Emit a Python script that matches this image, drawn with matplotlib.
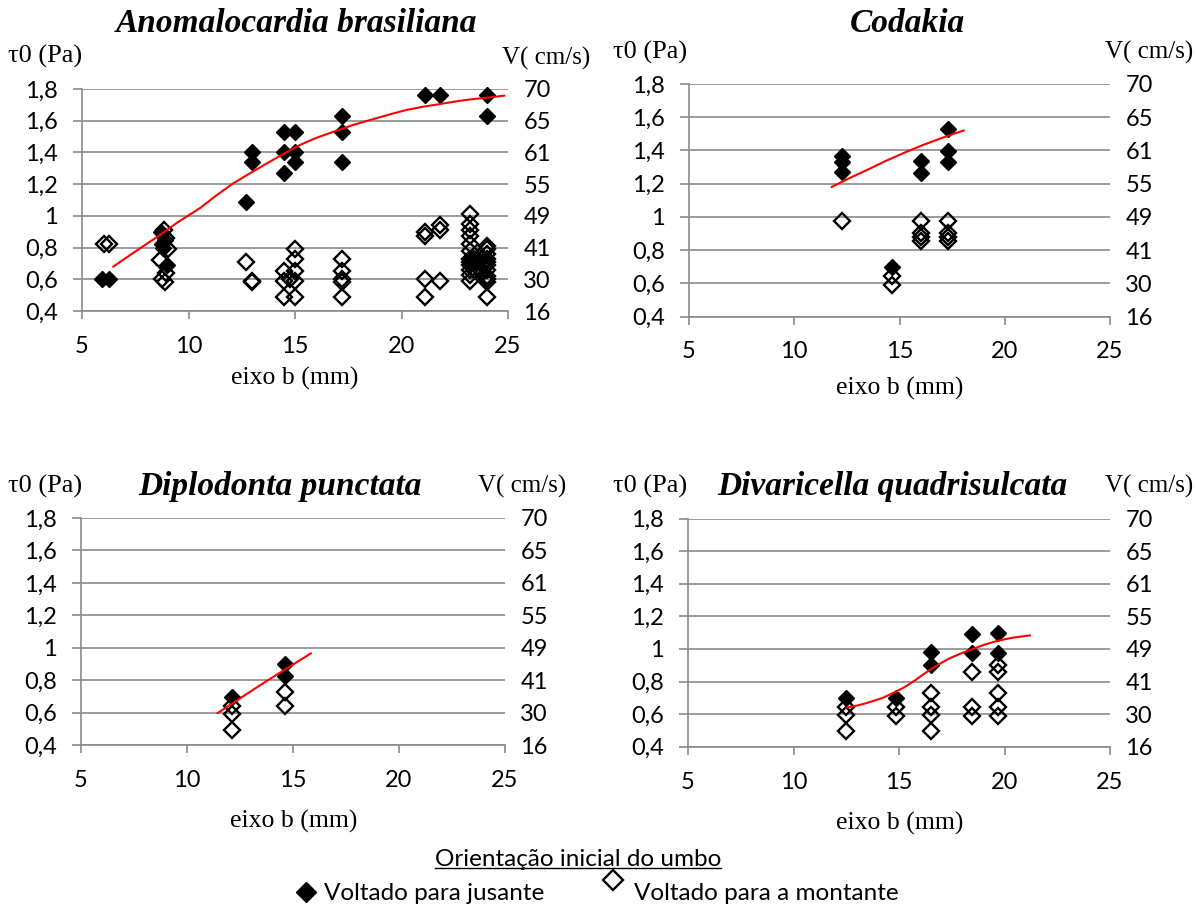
import matplotlib
matplotlib.use('Agg')
import matplotlib.pyplot as plt
from matplotlib.lines import Line2D

W, H = 1196, 908

# eixos comuns
tau_ticks = [0.4, 0.6, 0.8, 1.0, 1.2, 1.4, 1.6, 1.8]
tau_labels = ['0,4', '0,6', '0,8', '1', '1,2', '1,4', '1,6', '1,8']
vel_labels = ['16', '30', '41', '49', '55', '61', '65', '70']
x_ticks = [5, 10, 15, 20, 25]

# Anomalocardia brasiliana
anom_jus_x = [5.95, 6.26, 8.7, 8.75, 8.8, 8.9, 9.0, 12.7, 12.97, 12.97, 14.5, 15.0, 14.5, 15.0,
              15.0, 14.5, 17.2, 17.2, 17.2, 21.1, 21.8, 24.0, 24.0]
anom_jus_y = [0.6, 0.6, 0.9, 0.82, 0.8, 0.85, 0.69, 1.09, 1.40, 1.34, 1.53, 1.53, 1.40, 1.40,
              1.34, 1.27, 1.63, 1.53, 1.34, 1.76, 1.76, 1.76, 1.63]
anom_mon_x = [6.02, 6.29,
              8.86, 8.95, 9.04, 8.65, 8.95, 8.77, 8.9,
              12.69, 12.96, 13.0,
              14.47, 14.47, 14.47, 14.75,
              15.0, 15.0, 15.0, 15.0, 15.0,
              17.2, 17.2, 17.2, 17.2, 17.2,
              21.1, 21.1, 21.1, 21.1,
              21.8, 21.8, 21.8,
              23.2, 23.2, 23.2, 23.2, 23.2, 23.2, 23.2, 23.2, 23.2, 23.2, 23.2, 23.2,
              23.4, 23.4, 23.4, 23.5, 23.6, 23.6, 23.8, 23.8, 23.8,
              24.0, 24.0, 24.0, 24.0, 24.0, 24.0, 24.0, 24.0, 24.0, 24.0, 24.0]
anom_mon_y = [0.82, 0.82,
              0.91, 0.86, 0.79, 0.72, 0.64, 0.6, 0.58,
              0.71, 0.59, 0.58,
              0.65, 0.59, 0.49, 0.6,
              0.79, 0.73, 0.65, 0.59, 0.49,
              0.73, 0.65, 0.6, 0.58, 0.49,
              0.9, 0.87, 0.6, 0.49,
              0.94, 0.91, 0.59,
              1.01, 0.95, 0.91, 0.87, 0.82, 0.78, 0.73, 0.71, 0.69, 0.66, 0.63, 0.59,
              0.73, 0.70, 0.66, 0.71, 0.72, 0.68, 0.73, 0.70, 0.64,
              0.81, 0.79, 0.76, 0.73, 0.71, 0.69, 0.66, 0.62, 0.6, 0.58, 0.49]
anom_trend_x = [6.47, 7.5, 8.5, 9.5, 10.55, 11.3, 12.1, 12.9, 13.67, 14.45, 15.23, 16.0, 16.8,
                17.7, 18.67, 19.45, 20.24, 21.0, 21.8, 22.74, 23.4, 24.0, 24.82]
anom_trend_y = [0.68, 0.775, 0.865, 0.96, 1.05, 1.128, 1.205, 1.27, 1.33, 1.39, 1.447, 1.492, 1.53,
                1.572, 1.61, 1.64, 1.668, 1.688, 1.705, 1.726, 1.737, 1.745, 1.758]

# Codakia
coda_jus_x = [12.27, 12.27, 12.27, 14.64, 16.02, 16.02, 17.29, 17.29, 17.29]
coda_jus_y = [1.366, 1.33, 1.27, 0.70, 1.335, 1.265, 1.527, 1.396, 1.33]
coda_mon_x = [12.27, 14.64, 14.64, 16.02, 16.02, 16.02, 16.02, 17.29, 17.29, 17.29, 17.29]
coda_mon_y = [0.976, 0.642, 0.592, 0.976, 0.905, 0.88, 0.855, 0.976, 0.905, 0.88, 0.855]
coda_trend_x = [11.78, 12.6, 13.5, 14.4, 15.3, 16.1, 16.9, 17.5, 18.05]
coda_trend_y = [1.18, 1.232, 1.285, 1.34, 1.39, 1.432, 1.47, 1.497, 1.52]

# Diplodonta punctata
dipl_jus_x = [12.1, 14.63, 14.63]
dipl_jus_y = [0.698, 0.9, 0.824]
dipl_mon_x = [12.1, 12.1, 12.1, 14.63, 14.63]
dipl_mon_y = [0.64, 0.59, 0.495, 0.725, 0.643]
dipl_trend_x = [11.44, 13.64, 15.84]
dipl_trend_y = [0.597, 0.785, 0.965]

# Divaricella quadrisulcata
diva_jus_x = [12.51, 14.86, 16.51, 16.51, 18.46, 18.46, 19.68, 19.68]
diva_jus_y = [0.697, 0.697, 0.978, 0.902, 1.09, 0.975, 1.10, 0.975]
diva_mon_x = [12.51, 12.51, 12.51, 14.86, 14.86, 16.51, 16.51, 16.51, 16.51,
              18.46, 18.46, 18.46, 19.68, 19.68, 19.68, 19.68, 19.68]
diva_mon_y = [0.646, 0.595, 0.496, 0.646, 0.589, 0.729, 0.646, 0.595, 0.496,
              0.857, 0.646, 0.589, 0.902, 0.857, 0.729, 0.646, 0.589]
diva_trend_x = [12.51, 13.0, 13.45, 14.2, 14.89, 15.35, 15.79, 16.15, 16.51, 16.97, 17.41,
                17.95, 18.46, 19.05, 19.68, 20.4, 21.2]
diva_trend_y = [0.64, 0.652, 0.667, 0.698, 0.74, 0.772, 0.81, 0.843, 0.876, 0.912, 0.943,
                0.973, 0.998, 1.026, 1.05, 1.069, 1.083]

GRID = '#8a8a8a'
SANS = 'Lato'
SERIF = 'Liberation Serif'


def fx(px):
    return px / W


def fy(py):
    return 1 - py / H


fig = plt.figure(figsize=(W / 100, H / 100), dpi=100)


def painel(left, right, top, bottom, jx, jy, mx, my, tx, ty, titulo, tpos, tau_pos, v_pos, xl_pos):
    ax = fig.add_axes([fx(left), fy(bottom), fx(right - left), (bottom - top) / H])
    ax.set_xlim(5, 25)
    ax.set_ylim(0.4, 1.8)
    ax.set_xticks(x_ticks)
    ax.set_xticklabels([str(t) for t in x_ticks])
    ax.set_yticks(tau_ticks)
    ax.set_yticklabels(tau_labels)
    for s in ['top', 'right']:
        ax.spines[s].set_visible(False)
    for s in ['left', 'bottom']:
        ax.spines[s].set_color(GRID)
        ax.spines[s].set_linewidth(1.2)
    ax.yaxis.grid(True, color=GRID, lw=1.2)
    ax.set_axisbelow(True)
    ax.tick_params(axis='x', direction='out', length=6, width=1.2, color=GRID, pad=12,
                   labelsize=17)
    ax.tick_params(axis='y', direction='out', length=6.5, width=1.2, color=GRID, pad=11,
                   labelsize=17)
    for lab in ax.get_xticklabels() + ax.get_yticklabels():
        lab.set_fontfamily(SANS)

    ax2 = ax.twinx()
    ax2.set_ylim(0.4, 1.8)
    ax2.set_yticks(tau_ticks)
    ax2.set_yticklabels(vel_labels)
    for s in ax2.spines.values():
        s.set_visible(False)
    ax2.tick_params(axis='y', length=0, pad=11, labelsize=17)
    for lab in ax2.get_yticklabels():
        lab.set_fontfamily(SANS)

    ax.plot(jx, jy, ls='none', marker='D', ms=8.5, mfc='black', mec='black', mew=1, zorder=3,
            clip_on=False)
    ax.plot(mx, my, ls='none', marker='D', ms=8.5, mfc='none', mec='black', mew=1.7, zorder=4,
            clip_on=False)
    ax.plot(tx, ty, color='red', lw=1.5, zorder=5)

    fig.text(fx(tpos[0]), fy(tpos[1]), titulo, ha='center', va='center', fontsize=24,
             fontfamily=SERIF, fontstyle='italic', fontweight='bold')
    fig.text(fx(tau_pos[0]), fy(tau_pos[1]), 'τ0 (Pa)', ha='left', va='center', fontsize=19,
             fontfamily=SERIF)
    fig.text(fx(v_pos[0]), fy(v_pos[1]), 'V( cm/s)', ha='left', va='center', fontsize=18,
             fontfamily=SERIF)
    fig.text(fx(xl_pos[0]), fy(xl_pos[1]), 'eixo b (mm)', ha='center', va='center', fontsize=18.5,
             fontfamily=SERIF)
    return ax


painel(82, 508, 89, 311, anom_jus_x, anom_jus_y, anom_mon_x, anom_mon_y,
       anom_trend_x, anom_trend_y, 'Anomalocardia brasiliana',
       (296, 24), (8, 56), (502, 58), (295, 378))
painel(689, 1110, 84, 316.5, coda_jus_x, coda_jus_y, coda_mon_x, coda_mon_y,
       coda_trend_x, coda_trend_y, 'Codakia',
       (907, 24), (613, 52), (1105, 52), (900, 388))
painel(81, 505, 518, 745, dipl_jus_x, dipl_jus_y, dipl_mon_x, dipl_mon_y,
       dipl_trend_x, dipl_trend_y, 'Diplodonta punctata',
       (280, 486), (8, 486), (478, 486), (294, 821))
painel(688, 1110, 518.5, 746.7, diva_jus_x, diva_jus_y, diva_mon_x, diva_mon_y,
       diva_trend_x, diva_trend_y, 'Divaricella quadrisulcata',
       (892, 486), (613, 486), (1105, 486), (900, 823))

# legenda
tit = fig.text(fx(578), fy(859), 'Orientação inicial do umbo', ha='center', va='center',
               fontsize=17.5, fontfamily=SANS)
fig.canvas.draw()
bb = tit.get_window_extent().transformed(fig.transFigure.inverted())
fig.add_artist(Line2D([bb.x0, bb.x1], [bb.y0 + 0.002, bb.y0 + 0.002], transform=fig.transFigure,
                      color='black', lw=1))
fig.add_artist(Line2D([fx(306)], [fy(892)], transform=fig.transFigure, marker='D', ms=10,
                      mfc='black', mec='black', ls='none'))
fig.text(fx(324), fy(893), 'Voltado para jusante', ha='left', va='center', fontsize=17.5,
         fontfamily=SANS)
fig.add_artist(Line2D([fx(613)], [fy(880)], transform=fig.transFigure, marker='D', ms=10,
                      mfc='none', mec='black', mew=1.7, ls='none'))
fig.text(fx(634), fy(893), 'Voltado para a montante', ha='left', va='center', fontsize=17.5,
         fontfamily=SANS)

fig.savefig('out.png', dpi=100)
